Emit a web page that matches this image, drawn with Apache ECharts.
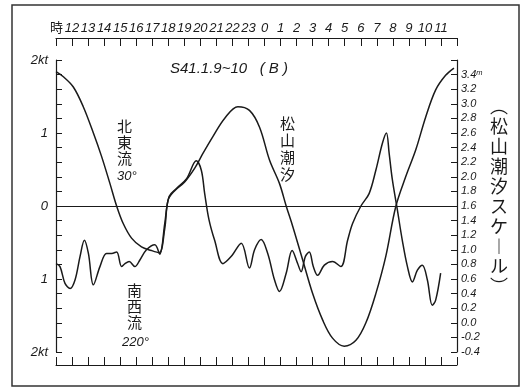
<!DOCTYPE html>
<html><head><meta charset="utf-8">
<script src="https://cdn.jsdelivr.net/npm/echarts@6/dist/echarts.min.js"></script>
<style>html,body{margin:0;padding:0;background:#fff}#c{width:523px;height:388px}</style>
</head><body><div id="c"></div>
<script>
// hours counted from 12:00 (0 = 12時, 12 = 0時, 23 = 11時)
const hourLabels = ['12','13','14','15','16','17','18','19','20','21','22','23','0','1','2','3','4','5','6','7','8','9','10','11'];
// 松山潮汐 (m, right scale)
const tideHours = [-1.0,-0.54,0.08,0.70,1.33,1.84,2.36,2.78,3.19,3.71,4.33,4.95,5.43,5.78,5.99,6.40,7.02,7.65,8.16,8.78,9.51,10.34,11.06,11.69,12.31,12.93,13.35,13.76,14.38,15.0,15.62,16.24,16.97,17.70,18.32,18.94,19.56,20.18,20.80,21.43,22.05,22.67,23.29,23.81];
const tideLevels = [3.44,3.37,3.23,2.96,2.60,2.28,1.91,1.60,1.36,1.16,1.04,0.99,0.96,1.29,1.68,1.81,1.93,2.12,2.32,2.55,2.80,2.96,2.91,2.68,2.23,1.91,1.60,1.32,0.86,0.40,0.04,-0.21,-0.32,-0.24,0.0,0.40,0.91,1.59,2.0,2.37,2.82,3.19,3.39,3.49];
// 流速 (kt, left scale; + 北東流 30°, - 南西流 220°)
const currentHours = [-1.0,-0.75,-0.44,-0.12,0.19,0.50,0.77,1.02,1.33,1.74,2.15,2.47,2.78,3.09,3.30,3.56,3.92,4.23,4.64,5.16,5.47,5.78,6.05,6.51,7.13,7.75,8.06,8.27,8.54,8.89,9.41,9.93,10.55,11.06,11.38,11.79,12.2,12.62,12.93,13.35,13.72,14.07,14.28,14.55,14.79,15.04,15.31,15.73,16.24,16.76,17.18,17.49,18.01,18.52,18.94,19.35,19.6,19.77,19.97,20.28,20.59,20.91,21.22,21.53,21.84,22.15,22.46,22.67,22.98];
const currentSpeeds = [-0.79,-0.83,-1.06,-1.13,-1.01,-0.69,-0.47,-0.65,-1.08,-0.83,-0.65,-0.65,-0.63,-0.83,-0.79,-0.76,-0.83,-0.74,-0.60,-0.53,-0.66,-0.24,0.13,0.24,0.37,0.62,0.49,0.17,-0.19,-0.47,-0.79,-0.69,-0.51,-0.85,-0.60,-0.46,-0.65,-1.01,-1.17,-0.92,-0.61,-0.79,-0.90,-0.69,-0.63,-0.83,-0.95,-0.81,-0.76,-0.83,-0.47,-0.24,0.0,0.17,0.49,0.86,1.0,0.72,0.36,-0.05,-0.47,-0.83,-1.04,-0.88,-0.81,-1.01,-1.36,-1.29,-0.92];

const ink = '#1a1a1a';
const lab = {color: ink, fontFamily: 'Liberation Sans', fontStyle: 'italic', fontSize: 12};
function vtext(s){ return s.split('').join('\n'); }
const tickStyle = {color: ink, width: 1};
const hourFmt = v => hourLabels[v] ?? '';
const ktFmt = v => (Math.abs(v) === 2 ? '2kt' : String(Math.abs(v)));
const mFmt = v => { const r = Math.round(v * 10) / 10; if (r >= 3.55) return ''; const s = r.toFixed(1); return r === 3.4 ? s + 'ᵐ' : s; };

const chart = echarts.init(document.getElementById('c'), null, {renderer: 'canvas'});
chart.setOption({
  animation: false,
  backgroundColor: '#fff',
  grid: [
    {left: 56, right: 66, top: 60, bottom: 36, outerBoundsMode: 'none'},
    {left: 56, right: 66, top: 18, height: 20, outerBoundsMode: 'none'},
    {left: 56, right: 66, top: 345, height: 20, outerBoundsMode: 'none'}
  ],
  xAxis: [
    // main data axis (hidden)
    {type: 'value', gridIndex: 0, min: -1, max: 24, show: false},
    // helper axes giving the y axes a zero at the left / right grid edge
    {type: 'value', gridIndex: 0, min: 0, max: 1, show: false},
    {type: 'value', gridIndex: 0, min: -1, max: 0, show: false},
    // top hour axis (line at the bottom edge of grid 1)
    {type: 'value', gridIndex: 1, position: 'bottom', min: -1, max: 24, interval: 1,
     axisLine: {show: true, onZero: true, lineStyle: {color: ink, width: 1.2}},
     axisTick: {show: true, inside: false, length: 8, lineStyle: tickStyle},
     axisLabel: {show: true, inside: true, margin: 3, ...lab, fontSize: 13, formatter: hourFmt},
     splitLine: {show: false}},
    // bottom tick axis
    {type: 'value', gridIndex: 2, position: 'bottom', min: -1, max: 24, interval: 1,
     axisLine: {show: true, onZero: true, lineStyle: {color: ink, width: 1}},
     axisTick: {show: true, inside: true, length: 8, lineStyle: tickStyle},
     axisLabel: {show: false}, splitLine: {show: false}}
  ],
  yAxis: [
    {type: 'value', gridIndex: 0, min: -2, max: 2, interval: 1, position: 'left',
     axisLine: {show: true, onZero: true, onZeroAxisIndex: 1, lineStyle: {color: ink, width: 1.2}},
     axisTick: {show: true, inside: true, length: 6, lineStyle: tickStyle},
     minorTick: {show: true, splitNumber: 5, length: 6, lineStyle: tickStyle},
     axisLabel: {...lab, fontSize: 13, margin: 8, formatter: ktFmt},
     splitLine: {show: false}, minorSplitLine: {show: false}},
    {type: 'value', gridIndex: 0, min: -0.4, max: 3.6, interval: 0.2, position: 'right',
     axisLine: {show: true, onZero: true, onZeroAxisIndex: 2, lineStyle: {color: ink, width: 1.2}},
     axisTick: {show: true, inside: true, length: 6, lineStyle: tickStyle},
     axisLabel: {...lab, fontSize: 11, margin: 4, formatter: mFmt},
     splitLine: {show: false}},
    {type: 'value', gridIndex: 1, min: 0, max: 1, show: false},
    {type: 'value', gridIndex: 2, min: 0, max: 1, show: false}
  ],
  series: [
    {name: '流速', type: 'line', xAxisIndex: 0, yAxisIndex: 0, smooth: 0.35, symbol: 'none',
     lineStyle: {color: ink, width: 1.5},
     data: currentHours.map((h, i) => [h, currentSpeeds[i]]),
     markLine: {silent: true, symbol: 'none', label: {show: false},
       lineStyle: {color: ink, width: 1.2, type: 'solid'}, data: [{yAxis: 0}]}},
    {name: '松山潮汐', type: 'line', xAxisIndex: 0, yAxisIndex: 1, smooth: 0.35, symbol: 'none',
     lineStyle: {color: ink, width: 1.5},
     data: tideHours.map((h, i) => [h, tideLevels[i]])}
  ],
  graphic: [
    {type: 'rect', shape: {x: 12, y: 5, width: 507, height: 381}, style: {fill: 'none', stroke: '#333', lineWidth: 1.5}},
    {type: 'text', left: 50, top: 21, style: {text: '時', font: '13px "Noto Sans CJK JP"', fill: ink}},
    {type: 'text', left: 170, top: 61, style: {text: 'S41.1.9~10   ( B )', font: 'italic 15px "Liberation Sans"', fill: ink}},
    {type: 'text', left: 117, top: 118, style: {text: vtext('北東流'), font: '15px "Noto Sans CJK JP"', lineHeight: 16, fill: ink}},
    {type: 'text', left: 117, top: 170, style: {text: '30°', font: 'italic 13px "Liberation Sans"', fill: ink}},
    {type: 'text', left: 127, top: 282, style: {text: vtext('南西流'), font: '15px "Noto Sans CJK JP"', lineHeight: 16, fill: ink}},
    {type: 'text', left: 122, top: 336, style: {text: '220°', font: 'italic 13px "Liberation Sans"', fill: ink}},
    {type: 'text', left: 280, top: 115, style: {text: vtext('松山潮汐'), font: '15px "Noto Sans CJK JP"', lineHeight: 17, fill: ink}},
    {type: 'text', left: 490, top: 96, style: {text: ['︵','松','山','潮','汐','ス','ケ','︱','ル','︶'].join('\n'), font: '18px "Noto Sans CJK JP"', lineHeight: 20, fill: ink}}
  ]
});
</script></body></html>
